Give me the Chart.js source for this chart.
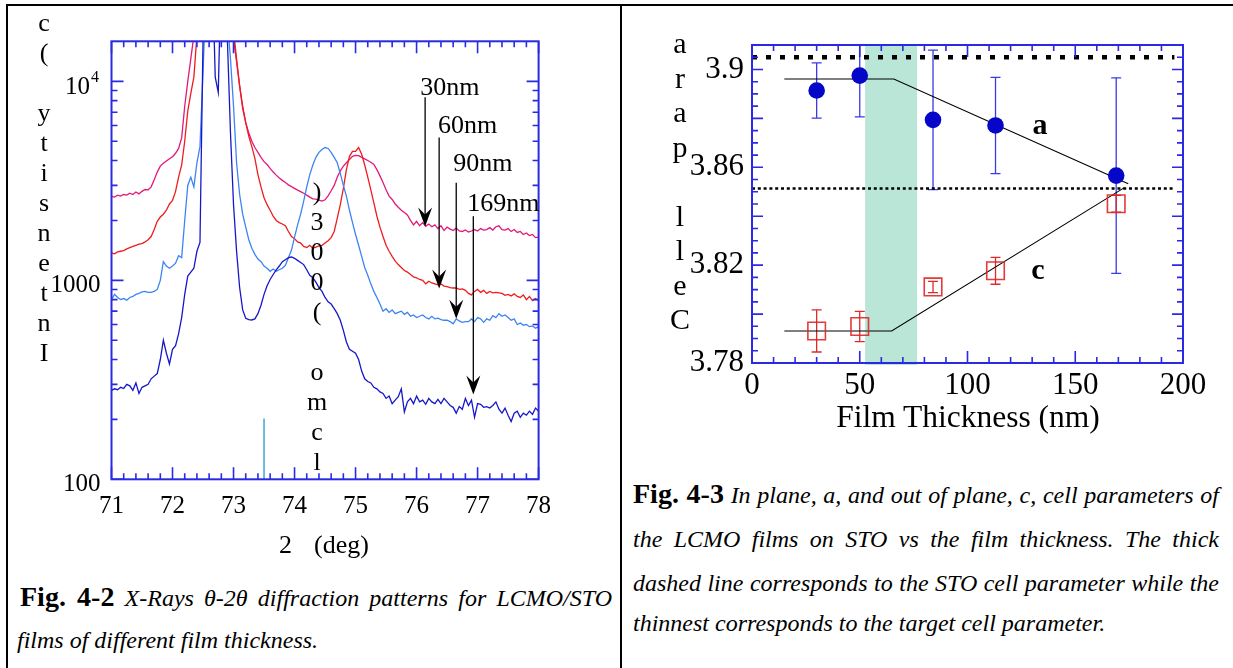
<!DOCTYPE html>
<html>
<head>
<meta charset="utf-8">
<title>LCMO/STO films</title>
<script src="https://cdn.jsdelivr.net/npm/chart.js@4.4.0/dist/chart.umd.min.js"></script>
<style>
    html, body { margin: 0; padding: 0; background: #fff; }
    #page {
        position: relative; width: 1233px; height: 668px; overflow: hidden;
        font-family: "Liberation Serif", "Times New Roman", serif; color: #000;
    }
    .rule { position: absolute; background: #000; }
    canvas { position: absolute; }
    .txt { position: absolute; white-space: pre; }
    .stack { position: absolute; width: 30px; text-align: center; }
    .cap { position: absolute; height: 44px; line-height: 44px; font-size: 24px; font-style: italic; white-space: nowrap; }
    .cap.just { text-align: justify; text-align-last: justify; }
    .cap b { font-style: normal; font-size: 28px; }
</style>
</head>
<body>
<div id="page">
    <div class="rule" style="left:6px;top:4px;width:1227px;height:2px"></div>
    <div class="rule" style="left:6px;top:4px;width:2px;height:664px"></div>
    <div class="rule" style="left:620px;top:4px;width:2px;height:664px"></div>

    <canvas id="xrd-chart" width="612" height="554" style="left:8px;top:6px"></canvas>
    <canvas id="cell-chart" width="611" height="440" style="left:622px;top:6px"></canvas>

    <!-- axis titles, written one glyph per line -->
    <div class="stack" style="left:29px;top:8px;font-size:26px;line-height:30px">c<br>(<br>&nbsp;<br>y<br>t<br>i<br>s<br>n<br>e<br>t<br>n<br>I</div>
    <div class="stack" style="left:302px;top:177px;font-size:26px;line-height:30px">)<br>3<br>0<br>0<br>(<br>&nbsp;<br>o<br>m<br>c<br>l</div>
    <div class="stack" style="left:665px;top:26px;font-size:30px;line-height:34.5px">a<br>r<br>a<br>p<br>&nbsp;<br>l<br>l<br>e<br>C</div>

    <div class="txt" style="left:279px;top:530px;font-size:26px;line-height:30px">2</div>
    <div class="txt" style="left:314px;top:530px;font-size:26px;line-height:30px">(deg)</div>
    <div class="txt" style="left:768px;top:399px;width:400px;text-align:center;font-size:31.5px;line-height:36px">Film Thickness (nm)</div>

    <!-- captions -->
    <div class="cap just" style="left:20px;top:575px;width:592px"><b>Fig. 4-2</b> X-Rays θ-2θ diffraction patterns for LCMO/STO</div>
    <div class="cap" style="left:17px;top:618px">films of different film thickness.</div>

    <div class="cap just" style="left:633px;top:472px;width:586px"><b>Fig. 4-3</b> In plane, a, and out of plane, c, cell parameters of</div>
    <div class="cap just" style="left:633px;top:517px;width:586px">the LCMO films on STO vs the film thickness. The thick</div>
    <div class="cap just" style="left:633px;top:561px;width:586px">dashed line corresponds to the STO cell parameter while the</div>
    <div class="cap" style="left:633px;top:601px">thinnest corresponds to the target cell parameter.</div>
</div>

<script>
(function() {
    'use strict';

    // ---- theta-2theta scans (counts), one value per 0.05 deg ----
    var twoTheta = [
        71.00, 71.05, 71.10, 71.15, 71.20, 71.25, 71.30, 71.35, 71.40, 71.45,
        71.50, 71.55, 71.60, 71.65, 71.70, 71.75, 71.80, 71.85, 71.90, 71.95,
        72.00, 72.05, 72.10, 72.15, 72.20, 72.25, 72.30, 72.35, 72.40, 72.45,
        72.50, 72.55, 72.60, 72.65, 72.70, 72.75, 72.80, 72.85, 72.90, 72.95,
        73.00, 73.05, 73.10, 73.15, 73.20, 73.25, 73.30, 73.35, 73.40, 73.45,
        73.50, 73.55, 73.60, 73.65, 73.70, 73.75, 73.80, 73.85, 73.90, 73.95,
        74.00, 74.05, 74.10, 74.15, 74.20, 74.25, 74.30, 74.35, 74.40, 74.45,
        74.50, 74.55, 74.60, 74.65, 74.70, 74.75, 74.80, 74.85, 74.90, 74.95,
        75.00, 75.05, 75.10, 75.15, 75.20, 75.25, 75.30, 75.35, 75.40, 75.45,
        75.50, 75.55, 75.60, 75.65, 75.70, 75.75, 75.80, 75.85, 75.90, 75.95,
        76.00, 76.05, 76.10, 76.15, 76.20, 76.25, 76.30, 76.35, 76.40, 76.45,
        76.50, 76.55, 76.60, 76.65, 76.70, 76.75, 76.80, 76.85, 76.90, 76.95,
        77.00, 77.05, 77.10, 77.15, 77.20, 77.25, 77.30, 77.35, 77.40, 77.45,
        77.50, 77.55, 77.60, 77.65, 77.70, 77.75, 77.80, 77.85, 77.90, 77.95,
        78.00
    ];

    var counts30nm = [
        2640, 2620, 2680, 2650, 2700, 2680, 2740, 2700, 2780, 2720,
        2800, 2860, 2850, 2950, 3200, 3500, 3750, 3880, 3980, 4080,
        4180, 4350, 4600, 5200, 7500, 10000, 13000, 17000, 25000, 40000,
        60000, 80000, 80000, 80000, 80000, 80000, 80000, 60000, 40000, 25000,
        16500, 12500, 9500, 7300, 6200, 5500, 5000, 4650, 4400, 4150,
        3950, 3820, 3650, 3500, 3380, 3270, 3180, 3100, 3020, 2960,
        2900, 2840, 2790, 2740, 2680, 2620, 2570, 2560, 2530, 2500,
        2540, 2660, 2820, 3000, 3300, 3550, 3750, 3900, 4050, 4200,
        4250, 4230, 4150, 4080, 4000, 3920, 3820, 3600, 3350, 3100,
        2850, 2650, 2550, 2420, 2330, 2250, 2190, 2130, 2000, 1900,
        1980, 1880, 1950, 1870, 1920, 1860, 1900, 1820, 1880, 1780,
        1850, 1810, 1780, 1830, 1770, 1760, 1790, 1750, 1770, 1800,
        1770, 1820, 1790, 1800, 1840, 1790, 1860, 1880, 1800, 1790,
        1820, 1760, 1800, 1740, 1760, 1700, 1730, 1680, 1700, 1640,
        1650
    ];

    var counts60nm = [
        1375, 1360, 1390, 1400, 1410, 1440, 1460, 1480, 1500, 1520,
        1530, 1560, 1600, 1660, 1800, 1980, 2080, 2150, 2250, 2420,
        2520, 2800, 3300, 3800, 5000, 7100, 8700, 10500, 17000, 30000,
        50000, 80000, 80000, 80000, 80000, 80000, 80000, 80000, 50000, 30000,
        18000, 13000, 9500, 7500, 6200, 5300, 4700, 4100, 3400, 2950,
        2600, 2400, 2250, 2100, 2000, 1950, 1920, 1880, 1760, 1660,
        1620, 1560, 1540, 1480, 1460, 1500, 1450, 1470, 1490, 1500,
        1540, 1580, 1640, 1760, 2050, 2400, 2900, 3600, 4200, 4450,
        4450, 4650, 4300, 3800, 3300, 2850, 2450, 2100, 1850, 1660,
        1500, 1400, 1320, 1250, 1200, 1160, 1120, 1100, 1070, 1040,
        1030, 1010, 1000, 960, 990, 970, 960, 950, 960, 935,
        930, 920, 915, 915, 900, 905, 890, 860, 845, 880,
        900, 870, 890, 860, 880, 865, 870, 865, 860, 840,
        850, 835, 855, 830, 820, 845, 800, 830, 790, 810,
        790
    ];

    var counts90nm = [
        800, 850, 820, 800, 810, 795, 820, 830, 850, 860,
        875, 880, 870, 870, 880, 900, 1000, 1240, 1180, 1150,
        1180, 1220, 1330, 1300, 2000, 3000, 3300, 2950, 3900, 4700,
        11000, 30000, 60000, 80000, 80000, 60000, 50000, 30000, 20000, 13000,
        7500, 3900, 2700, 2150, 1850, 1600, 1450, 1350, 1280, 1240,
        1180, 1150, 1110, 1140, 1110, 1130, 1150, 1190, 1300, 1420,
        1650, 1900, 2150, 2500, 2950, 3400, 3800, 4150, 4400, 4550,
        4650, 4600, 4400, 4150, 3900, 3450, 3000, 2650, 2250, 1950,
        1700, 1500, 1320, 1160, 1060, 960, 880, 820, 760, 700,
        720, 690, 710, 680, 690, 700, 675, 690, 660, 670,
        650, 660, 670, 650, 640, 660, 640, 645, 635, 630,
        630, 620, 605, 640, 625, 615, 620, 620, 640, 620,
        650, 640, 615, 640, 630, 665, 650, 680, 660, 670,
        650, 630, 640, 600, 610, 595, 600, 585, 590, 575,
        585
    ];

    var counts169nm = [
        280, 285, 282, 290, 286, 300, 295, 280, 305, 270,
        290, 295, 300, 320, 330, 340, 400, 500, 430, 380,
        450, 470, 540, 650, 850, 1050, 1100, 1150, 1400, 1550,
        16000, 60000, 60000, 40000, 10500, 8800, 40000, 40000, 16000, 5500,
        2400, 1400, 920, 710, 645, 635, 632, 640, 680, 750,
        850, 940, 1010, 1070, 1130, 1180, 1240, 1270, 1300, 1310,
        1290, 1260, 1230, 1200, 1130, 1060, 1030, 980, 920, 880,
        820, 780, 760, 720, 680, 630, 560, 490, 450, 440,
        430, 400, 350, 320, 310, 305, 290, 285, 275, 270,
        255, 262, 240, 250, 260, 285, 218, 245, 255, 240,
        262, 245, 250, 238, 255, 245, 240, 252, 240, 255,
        245, 235, 230, 215, 232, 225, 255, 235, 250, 205,
        240, 238, 230, 232, 228, 235, 245, 225, 215, 228,
        210, 195, 215, 220, 205, 215, 210, 220, 212, 228,
        220
    ];

    var angleTicks = [71, 72, 73, 74, 75, 76, 77, 78];
    var countDecades = [100, 1000, 10000];

    // LCMO (003) reference position
    var lcmoPeak = 73.5;
    var lcmoMarkTop = 202;

    // thickness arrows: label, angle, start and tip (counts), label anchor
    var arrowNames = ['30nm', '60nm', '90nm', '169nm'];
    var arrowAngle = [76.14, 76.37, 76.65, 76.93];
    var arrowFrom = [8325, 5224, 3090, 2097];
    var arrowTip = [1866, 909, 641, 267];
    var arrowLabelAngle = [76.06, 76.35, 76.60, 76.83];
    var arrowLabelCounts = [9218, 5987, 3844, 2412];

    // ---- cell parameters vs thickness ----
    var thickness = [30, 50, 84, 113, 169];
    var aParam = [3.8914, 3.8975, 3.8794, 3.8771, 3.8566];
    var aErr = [0.0113, 0.0169, 0.0285, 0.0197, 0.0400];
    var cParam = [3.7931, 3.7949, 3.8111, 3.8177, 3.8451];
    var cErr = [0.0086, 0.0062, 0.0023, 0.0055, 0.0034];

    var aFitX = [15, 65.8, 174.6];
    var aFitY = [3.8961, 3.8961, 3.8533];
    var cFitX = [15, 64.8, 172.8];
    var cFitY = [3.7931, 3.7931, 3.8517];

    var stoParam = 3.905;
    var targetParam = 3.8513;
    var refLineX = [0, 196];
    var criticalBand = [52.5, 76.6];

    var thicknessTicks = [0, 50, 100, 150, 200];
    var cellTicks = [3.78, 3.82, 3.86, 3.90];

    var AXIS_BLUE = '#2a2ae2';
    var SERIF = '"Liberation Serif", "Times New Roman", serif';

    Chart.defaults.font.family = SERIF;
    Chart.defaults.color = '#000';

    function points(xs, ys) {
        return xs.map(function(x, i) {
            return { x: x, y: ys[i] };
        });
    }

    // inward tick marks on all four sides plus the box
    var framePlugin = {
        id: 'frame',
        afterDatasetsDraw: function(chart, args, opts) {
            var ctx = chart.ctx,
                area = chart.chartArea,
                xs = chart.scales.x,
                ys = chart.scales.y;

            ctx.save();
            ctx.strokeStyle = opts.color;
            ctx.lineWidth = opts.tickWidth;
            ctx.beginPath();
            opts.xTicks.forEach(function(t) {
                var px = xs.getPixelForValue(t[0]);
                ctx.moveTo(px, area.bottom);
                ctx.lineTo(px, area.bottom - t[1]);
                ctx.moveTo(px, area.top);
                ctx.lineTo(px, area.top + t[1]);
            });
            opts.yTicks.forEach(function(t) {
                var py = ys.getPixelForValue(t[0]);
                ctx.moveTo(area.left, py);
                ctx.lineTo(area.left + t[1], py);
                ctx.moveTo(area.right, py);
                ctx.lineTo(area.right - t[1], py);
            });
            ctx.stroke();
            ctx.lineWidth = opts.frameWidth;
            ctx.strokeRect(area.left, area.top, area.right - area.left, area.bottom - area.top);
            ctx.restore();
        }
    };

    function linearTicks(majors, step, majorLen, minorLen) {
        var out = [];
        for (var i = 0; i < majors.length; i++) {
            out.push([majors[i], majorLen]);
            if (i < majors.length - 1) {
                for (var v = majors[i] + step; v < majors[i + 1] - step / 2; v += step) {
                    out.push([v, minorLen]);
                }
            }
        }
        return out;
    }

    function logTicks(decades, max, majorLen, minorLen) {
        var out = [];
        decades.forEach(function(d) {
            out.push([d, majorLen]);
            for (var k = 2; k <= 9; k++) {
                if (d * k <= max) out.push([d * k, minorLen]);
            }
        });
        return out;
    }

    // arrows, thickness labels and the 10^4 tick label
    var xrdNotes = {
        id: 'xrdNotes',
        afterDatasetsDraw: function(chart) {
            var ctx = chart.ctx,
                xs = chart.scales.x,
                ys = chart.scales.y,
                area = chart.chartArea;

            ctx.save();
            ctx.fillStyle = '#000';
            ctx.strokeStyle = '#000';
            ctx.lineWidth = 1.3;
            ctx.font = '26px ' + SERIF;
            ctx.textBaseline = 'middle';
            ctx.textAlign = 'left';

            for (var i = 0; i < arrowNames.length; i++) {
                var px = xs.getPixelForValue(arrowAngle[i]),
                    y0 = ys.getPixelForValue(arrowFrom[i]),
                    y1 = ys.getPixelForValue(arrowTip[i]);

                ctx.beginPath();
                ctx.moveTo(px, y0);
                ctx.lineTo(px, y1 - 10);
                ctx.stroke();

                ctx.beginPath();
                ctx.moveTo(px, y1);
                ctx.lineTo(px - 7, y1 - 19);
                ctx.lineTo(px, y1 - 12);
                ctx.lineTo(px + 7, y1 - 19);
                ctx.closePath();
                ctx.fill();

                ctx.fillText(arrowNames[i],
                             xs.getPixelForValue(arrowLabelAngle[i]),
                             ys.getPixelForValue(arrowLabelCounts[i]));
            }

            var ty = ys.getPixelForValue(10000);
            ctx.textAlign = 'right';
            ctx.font = '16px ' + SERIF;
            ctx.fillText('4', area.left - 12.5, ty - 4);
            var w4 = ctx.measureText('4').width;
            ctx.font = '25px ' + SERIF;
            ctx.fillText('10', area.left - 13.5 - w4, ty + 6);
            ctx.restore();
        }
    };

    var scanStyle = function(label, counts, color) {
        return {
            label: label,
            data: points(twoTheta, counts),
            borderColor: color,
            borderWidth: 1.3,
            pointRadius: 0,
            tension: 0,
            fill: false
        };
    };

    new Chart(document.getElementById('xrd-chart'), {
        type: 'line',
        data: {
            datasets: [
                scanStyle('169nm', counts169nm, '#1717c9'),
                scanStyle('90nm', counts90nm, '#3d84f3'),
                scanStyle('60nm', counts60nm, '#ee1c1c'),
                scanStyle('30nm', counts30nm, '#e2197a'),
                {
                    label: 'LCMO (003)',
                    data: [{ x: lcmoPeak, y: 100 }, { x: lcmoPeak, y: lcmoMarkTop }],
                    borderColor: '#1d9bd1',
                    borderWidth: 1.3,
                    pointRadius: 0
                }
            ]
        },
        options: {
            responsive: false,
            animation: false,
            events: [],
            layout: { padding: { top: 35.3, right: 81.4, left: 0, bottom: 0 } },
            plugins: {
                legend: { display: false },
                tooltip: { enabled: false },
                frame: {
                    color: AXIS_BLUE,
                    tickWidth: 1.6,
                    frameWidth: 2,
                    xTicks: linearTicks(angleTicks, 0.2, 12, 6),
                    yTicks: logTicks(countDecades, 15900, 12, 6)
                }
            },
            scales: {
                x: {
                    type: 'linear',
                    min: 71,
                    max: 78,
                    afterFit: function(s) { s.height = 80.7; },
                    afterBuildTicks: function(s) {
                        s.ticks = angleTicks.map(function(v) { return { value: v }; });
                    },
                    grid: { display: false, drawTicks: false },
                    border: { display: false },
                    ticks: {
                        autoSkip: false,
                        maxRotation: 0,
                        padding: 12,
                        font: { size: 25 },
                        callback: function(v) { return String(v); }
                    }
                },
                y: {
                    type: 'logarithmic',
                    min: 100,
                    max: 15900,
                    afterFit: function(s) { s.width = 103.5; },
                    afterBuildTicks: function(s) {
                        s.ticks = countDecades.map(function(v) { return { value: v }; });
                    },
                    grid: { display: false, drawTicks: false },
                    border: { display: false },
                    ticks: {
                        autoSkip: false,
                        padding: 11,
                        labelOffset: 5,
                        font: { size: 25 },
                        callback: function(v) { return v === 10000 ? '' : String(v); }
                    }
                }
            }
        },
        plugins: [framePlugin, xrdNotes]
    });

    // shaded band, error bars and the a / c labels
    var cellNotes = {
        id: 'cellNotes',
        beforeDatasetsDraw: function(chart) {
            var ctx = chart.ctx,
                xs = chart.scales.x,
                ys = chart.scales.y,
                area = chart.chartArea;

            ctx.save();
            ctx.fillStyle = '#b9e6d6';
            var bx0 = xs.getPixelForValue(criticalBand[0]),
                bx1 = xs.getPixelForValue(criticalBand[1]);
            ctx.fillRect(bx0, area.top, bx1 - bx0, area.bottom - area.top + 2);

            ctx.beginPath();
            ctx.rect(area.left, area.top, area.right - area.left, area.bottom - area.top);
            ctx.clip();

            function bars(vals, errs, color) {
                ctx.strokeStyle = color;
                ctx.lineWidth = 1.3;
                ctx.beginPath();
                for (var i = 0; i < thickness.length; i++) {
                    var px = xs.getPixelForValue(thickness[i]),
                        top = ys.getPixelForValue(vals[i] + errs[i]),
                        bot = ys.getPixelForValue(vals[i] - errs[i]);
                    ctx.moveTo(px, top);
                    ctx.lineTo(px, bot);
                    ctx.moveTo(px - 5, top);
                    ctx.lineTo(px + 5, top);
                    ctx.moveTo(px - 5, bot);
                    ctx.lineTo(px + 5, bot);
                }
                ctx.stroke();
            }
            bars(aParam, aErr, '#3a3ae6');
            bars(cParam, cErr, '#dd2a2a');
            ctx.restore();
        },
        afterDatasetsDraw: function(chart) {
            var ctx = chart.ctx,
                xs = chart.scales.x,
                ys = chart.scales.y;

            ctx.save();
            ctx.fillStyle = '#000';
            ctx.font = 'bold 30px ' + SERIF;
            ctx.textAlign = 'center';
            ctx.textBaseline = 'middle';
            ctx.fillText('a', xs.getPixelForValue(133.6), ys.getPixelForValue(3.8769));
            ctx.fillText('c', xs.getPixelForValue(132.7), ys.getPixelForValue(3.8175));
            ctx.restore();
        }
    };

    function refLine(y, width, dash) {
        return {
            data: points(refLineX, [y, y]),
            borderColor: '#000',
            borderWidth: width,
            borderDash: dash,
            borderCapStyle: 'butt',
            pointRadius: 0
        };
    }

    new Chart(document.getElementById('cell-chart'), {
        type: 'line',
        data: {
            datasets: [
                {
                    label: 'a',
                    data: points(thickness, aParam),
                    showLine: false,
                    pointStyle: 'circle',
                    pointRadius: 8.3,
                    pointBackgroundColor: '#0606c8',
                    pointBorderWidth: 0
                },
                {
                    label: 'c',
                    data: points(thickness, cParam),
                    showLine: false,
                    pointStyle: 'rect',
                    pointRadius: 12.4,
                    pointBackgroundColor: 'rgba(0,0,0,0)',
                    pointBorderColor: 'rgba(222,38,38,0.9)',
                    pointBorderWidth: 1.6
                },
                {
                    data: points(aFitX, aFitY),
                    borderColor: '#000',
                    borderWidth: 1.1,
                    pointRadius: 0
                },
                {
                    data: points(cFitX, cFitY),
                    borderColor: '#000',
                    borderWidth: 1.1,
                    pointRadius: 0
                },
                refLine(stoParam, 4.5, [5, 9]),
                refLine(targetParam, 2.5, [3, 2.8])
            ]
        },
        options: {
            responsive: false,
            animation: false,
            events: [],
            layout: { padding: { top: 39, right: 50, left: 0, bottom: 0 } },
            plugins: {
                legend: { display: false },
                tooltip: { enabled: false },
                frame: {
                    color: AXIS_BLUE,
                    tickWidth: 1.6,
                    frameWidth: 2,
                    xTicks: linearTicks(thicknessTicks, 10, 12, 6),
                    yTicks: linearTicks([3.78, 3.80, 3.82, 3.84, 3.86, 3.88, 3.90], 0.005, 11, 6)
                        .concat([[3.905, 6]])
                }
            },
            scales: {
                x: {
                    type: 'linear',
                    min: 0,
                    max: 200,
                    afterFit: function(s) { s.height = 83; },
                    afterBuildTicks: function(s) {
                        s.ticks = thicknessTicks.map(function(v) { return { value: v }; });
                    },
                    grid: { display: false, drawTicks: false },
                    border: { display: false },
                    ticks: {
                        autoSkip: false,
                        maxRotation: 0,
                        padding: 4,
                        font: { size: 31 },
                        callback: function(v) { return String(v); }
                    }
                },
                y: {
                    type: 'linear',
                    min: 3.78,
                    max: 3.91,
                    afterFit: function(s) { s.width = 130; },
                    afterBuildTicks: function(s) {
                        s.ticks = cellTicks.map(function(v) { return { value: v }; });
                    },
                    grid: { display: false, drawTicks: false },
                    border: { display: false },
                    ticks: {
                        autoSkip: false,
                        padding: 8,
                        font: { size: 31 },
                        callback: function(v) { return String(Number(v.toFixed(2))); }
                    }
                }
            }
        },
        plugins: [framePlugin, cellNotes]
    });
})();
</script>
</body>
</html>
